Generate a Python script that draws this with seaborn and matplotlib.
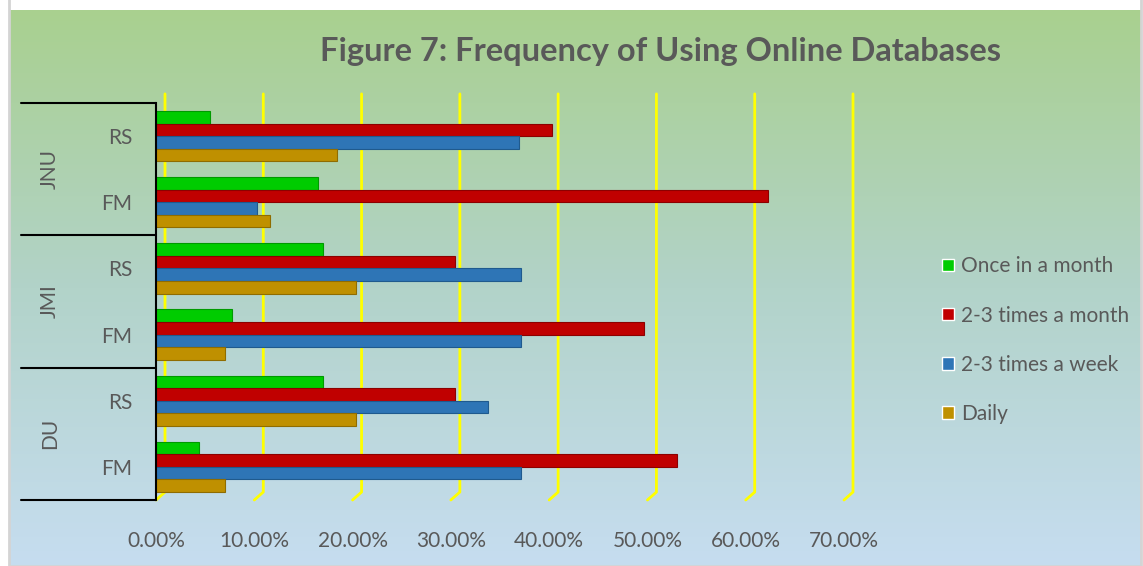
import numpy as np
import pandas as pd
import matplotlib.pyplot as plt
from matplotlib.patches import Rectangle
from matplotlib.colors import LinearSegmentedColormap
import seaborn as sns

# data (top row of the chart first)
university = ["JNU", "JNU", "JMI", "JMI", "DU", "DU"]
staff = ["RS", "FM", "RS", "FM", "RS", "FM"]
frequency = ["Once in a month", "2-3 times a month", "2-3 times a week", "Daily"]
once_month = [5.5, 16.5, 17.0, 7.7, 17.0, 4.4]
month_2_3 = [40.3, 62.3, 30.4, 49.7, 30.4, 53.0]
week_2_3 = [36.9, 10.3, 37.1, 37.1, 33.8, 37.1]
daily = [18.4, 11.6, 20.3, 7.0, 20.3, 7.0]
x_ticks = [0, 10, 20, 30, 40, 50, 60, 70]

colors = ["#00cc00", "#c00000", "#2e75b6", "#bf9000"]
edges = ["#009a00", "#8c0000", "#1f5a8e", "#8f6c00"]

rows = [f"{u} {s}" for u, s in zip(university, staff)]
df = pd.DataFrame({
    "row": rows * 4,
    "freq": np.repeat(frequency, len(rows)),
    "value": once_month + month_2_3 + week_2_3 + daily,
})

sns.set_style("white")
plt.rcParams["font.family"] = ["Lato", "DejaVu Sans"]

W, H = 1143, 566
fig = plt.figure(figsize=(W / 100, H / 100), dpi=100)
fig.patch.set_facecolor("white")

# gradient background with a grey frame
bg = fig.add_axes([9 / W, 0, (1141 - 9) / W, (H - 10) / H])
cmap = LinearSegmentedColormap.from_list("bg", ["#a9d08f", "#b2d3c9", "#c6ddf0"])
bg.imshow(np.linspace(0, 1, 256).reshape(-1, 1), aspect="auto", cmap=cmap,
          extent=[0, 1, 0, 1], origin="upper")
bg.set_xlim(0, 1)
bg.set_ylim(0, 1)
bg.axis("off")
bg.add_patch(Rectangle((0, 0), 1, 1.2, transform=bg.transAxes, fill=False,
                       edgecolor="#d4d4d4", lw=2, clip_on=False))

left, right, top, bottom = 156, 844, 103, 500
ax = fig.add_axes([left / W, 1 - bottom / H, (right - left) / W, (bottom - top) / H])
ax.patch.set_alpha(0)

sns.barplot(data=df, x="value", y="row", hue="freq", hue_order=frequency,
            order=rows, orient="h", palette=colors, saturation=1,
            width=0.76, errorbar=None, ax=ax, zorder=2)
for cont, ec in zip(ax.containers, edges):
    for bar in cont:
        bar.set_edgecolor(ec)
        bar.set_linewidth(0.8)

ax.set_xlim(0, 70)
ax.set_ylim(len(rows) - 0.5, -0.5)
ax.set_xticks(x_ticks)
ax.set_xticklabels([f"{v:.2f}%" for v in x_ticks])
ax.set_yticks(range(len(rows)))
ax.set_yticklabels(staff)
ax.tick_params(axis="x", length=0, pad=22, labelsize=15, labelcolor="#595959")
ax.tick_params(axis="y", length=0, pad=17, labelsize=15, labelcolor="#595959")
ax.set_xlabel("")
ax.set_ylabel("")
for s in ["top", "right", "bottom"]:
    ax.spines[s].set_visible(False)
ax.spines["left"].set_color("black")
ax.spines["left"].set_linewidth(1.5)

# yellow gridlines on the back wall, with the slanted foot to the front
dx = 70 * 9 / (right - left)
xt = ax.get_xaxis_transform()
for v in x_ticks:
    ax.plot([v, v + dx, v + dx], [0.0, 0.02, 1.023], color="yellow", lw=2,
            transform=xt, clip_on=False, zorder=0)

# group separators and university labels
yt = ax.get_yaxis_transform()
groups = list(dict.fromkeys(university))
for i, g in enumerate(groups):
    ax.plot([-0.196, 0], [2 * i - 0.5, 2 * i - 0.5], color="black", lw=1.5,
            transform=yt, clip_on=False)
    ax.text(-0.154, 2 * i + 0.5, g, transform=yt, rotation=90, ha="center",
            va="center", fontsize=15, color="#595959")
ax.plot([-0.196, 0], [len(rows) - 0.5] * 2, color="black", lw=1.5,
        transform=yt, clip_on=False)

handles, labels = ax.get_legend_handles_labels()
ax.legend(handles, labels, loc="upper left", bbox_to_anchor=(932 / W, 1 - 246 / H),
          bbox_transform=fig.transFigure, frameon=False, fontsize=15,
          labelcolor="#595959", handlelength=0.55, handleheight=0.55,
          handletextpad=0.35, labelspacing=1.4, borderpad=0)

fig.text(660 / W, 1 - 51 / H, "Figure 7: Frequency of Using Online Databases",
         ha="center", va="center", fontsize=23.5, fontweight="bold", color="#595959")

fig.savefig("out.png", dpi=100)
